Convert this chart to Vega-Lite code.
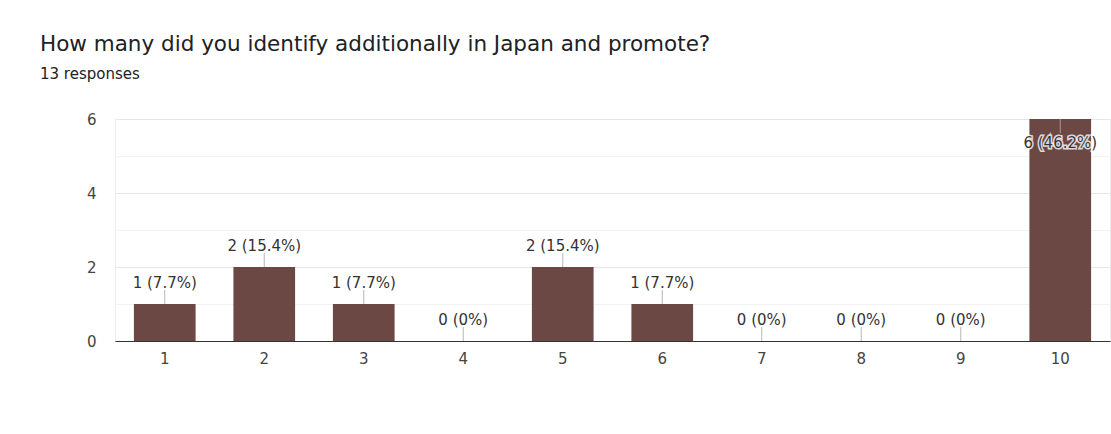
{
  "$schema": "https://vega.github.io/schema/vega-lite/v6.json",
  "width": 995,
  "height": 222,
  "autosize": {"type": "none"},
  "padding": {"left": 115, "top": 119, "right": 1, "bottom": 93},
  "background": "white",
  "title": {
    "text": "How many did you identify additionally in Japan and promote?",
    "subtitle": "13 responses",
    "anchor": "start",
    "frame": "group",
    "dx": -75,
    "offset": 30,
    "font": "DejaVu Sans",
    "fontSize": 21.5,
    "fontWeight": "normal",
    "color": "#202124",
    "subtitleFont": "DejaVu Sans",
    "subtitleFontSize": 15,
    "subtitleFontWeight": 500,
    "subtitleColor": "#202124",
    "subtitlePadding": 12
  },
  "config": {
    "view": {"stroke": "#eeeeee", "strokeWidth": 1},
    "font": "DejaVu Sans"
  },
  "data": {
    "values": [
      {"option": "1", "count": 1, "label": "1 (7.7%)"},
      {"option": "2", "count": 2, "label": "2 (15.4%)"},
      {"option": "3", "count": 1, "label": "1 (7.7%)"},
      {"option": "4", "count": 0, "label": "0 (0%)"},
      {"option": "5", "count": 2, "label": "2 (15.4%)"},
      {"option": "6", "count": 1, "label": "1 (7.7%)"},
      {"option": "7", "count": 0, "label": "0 (0%)"},
      {"option": "8", "count": 0, "label": "0 (0%)"},
      {"option": "9", "count": 0, "label": "0 (0%)"},
      {"option": "10", "count": 6, "label": "6 (46.2%)"}
    ]
  },
  "encoding": {
    "x": {
      "field": "option",
      "type": "nominal",
      "sort": null,
      "scale": {"paddingInner": 0.38, "paddingOuter": 0.19},
      "axis": {
        "title": null,
        "labelAngle": 0,
        "ticks": false,
        "domain": true,
        "domainColor": "#333333",
        "domainWidth": 1,
        "labelPadding": 10,
        "labelFontSize": 15,
        "labelColor": "#444444",
        "labelFont": "DejaVu Sans",
        "grid": false
      }
    },
    "y": {
      "field": "count",
      "type": "quantitative",
      "scale": {"domain": [0, 6], "nice": false},
      "axis": {
        "title": null,
        "values": [0, 1, 2, 3, 4, 5, 6],
        "labelExpr": "datum.value % 2 === 0 ? datum.label : ''",
        "ticks": false,
        "domain": false,
        "labelPadding": 19,
        "labelFontSize": 15,
        "labelColor": "#444444",
        "labelFont": "DejaVu Sans",
        "grid": true,
        "gridColor": {"condition": {"test": "datum.value % 2 === 0", "value": "#e6e6e6"}, "value": "#f3f3f3"}
      }
    }
  },
  "layer": [
    {"mark": {"type": "bar", "color": "#6c4844"}},
    {
      "transform": [{"filter": "datum.count < 6"}],
      "mark": {"type": "tick", "orient": "vertical", "size": 14, "thickness": 1, "yOffset": -7, "color": "#999999"}
    },
    {
      "transform": [{"filter": "datum.count < 6"}],
      "mark": {"type": "text", "baseline": "alphabetic", "dy": -16, "fontSize": 15, "color": "#333333"},
      "encoding": {"text": {"field": "label"}}
    },
    {
      "transform": [{"filter": "datum.count >= 6"}],
      "mark": {"type": "tick", "orient": "vertical", "size": 14, "thickness": 1, "yOffset": 7, "color": "#bbbbbb"}
    },
    {
      "transform": [{"filter": "datum.count >= 6"}],
      "mark": {"type": "text", "baseline": "alphabetic", "dy": 29, "fontSize": 15, "color": "#ffffff", "stroke": "#ffffff", "strokeWidth": 3, "strokeOpacity": 0.8},
      "encoding": {"text": {"field": "label"}}
    },
    {
      "transform": [{"filter": "datum.count >= 6"}],
      "mark": {"type": "text", "baseline": "alphabetic", "dy": 29, "fontSize": 15, "color": "#333333"},
      "encoding": {"text": {"field": "label"}}
    }
  ]
}
